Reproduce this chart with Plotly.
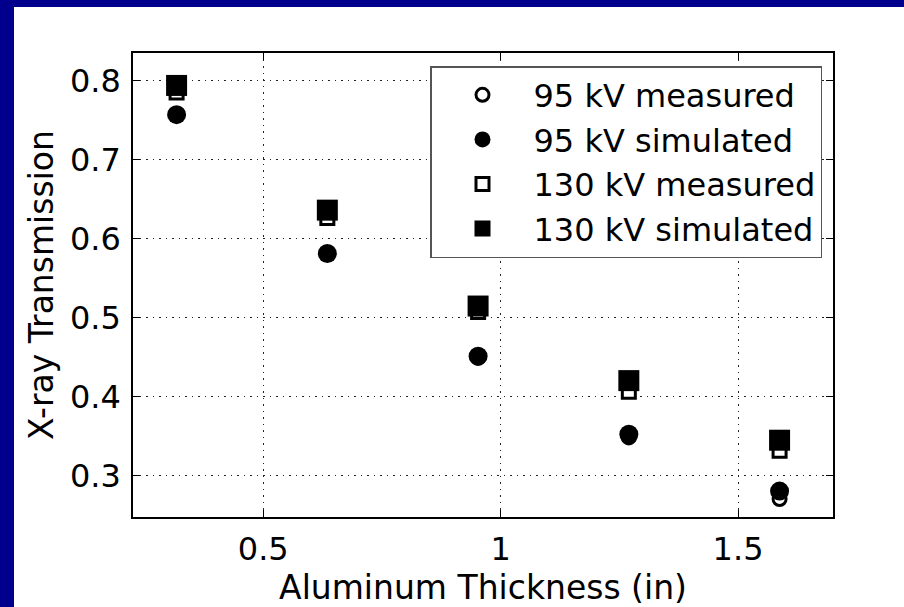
import plotly.graph_objects as go

# ---- data ----
thickness_in = [0.3175, 0.635, 0.9525, 1.27, 1.5875]
kv95_measured = [0.757, 0.580, 0.449, 0.348, 0.270]
kv95_simulated = [0.757, 0.581, 0.451, 0.352, 0.280]
kv130_measured = [0.785, 0.626, 0.507, 0.406, 0.331]
kv130_simulated = [0.794, 0.636, 0.5145, 0.420, 0.3445]

x_ticks = [0.5, 1, 1.5]
x_tick_text = ["0.5", "1", "1.5"]
y_ticks = [0.3, 0.4, 0.5, 0.6, 0.7, 0.8]
y_tick_text = ["0.3", "0.4", "0.5", "0.6", "0.7", "0.8"]

# ---- layout geometry (pixels) ----
W, H = 904, 607
L, R, T, B = 133, 71, 53, 90
PW, PH = W - L - R, H - T - B
BLUE = "#00008C"
FONT = "DejaVu Sans"

def px_x(p):
    return (p - L) / PW

def px_y(p):
    return (H - B - p) / PH

fig = go.Figure()

fig.add_trace(go.Scatter(
    x=thickness_in, y=kv95_measured, mode="markers", name="95 kV measured",
    marker=dict(symbol="circle", size=13, color="white",
                line=dict(color="black", width=3))))
fig.add_trace(go.Scatter(
    x=thickness_in, y=kv95_simulated, mode="markers", name="95 kV simulated",
    marker=dict(symbol="circle", size=19, color="black",
                line=dict(color="black", width=0))))
fig.add_trace(go.Scatter(
    x=thickness_in, y=kv130_measured, mode="markers", name="130 kV measured",
    marker=dict(symbol="square", size=13, color="white",
                line=dict(color="black", width=3))))
fig.add_trace(go.Scatter(
    x=thickness_in, y=kv130_simulated, mode="markers", name="130 kV simulated",
    marker=dict(symbol="square", size=21, color="black",
                line=dict(color="black", width=0))))

axis_common = dict(
    showline=True, linecolor="black", linewidth=1.5, mirror="ticks",
    ticks="inside", ticklen=7, tickwidth=1.2, tickcolor="black",
    showgrid=True, gridcolor="#222", gridwidth=1, griddash="1.5px,5px",
    zeroline=False, tickfont=dict(family=FONT, size=32, color="black"),
)

fig.update_xaxes(
    range=[0.2257, 1.70], tickvals=x_ticks, ticktext=x_tick_text,
    title=dict(text="Aluminum Thickness (in)",
               font=dict(family=FONT, size=33, color="black"), standoff=0),
    ticklabelstandoff=3, **axis_common)
fig.update_yaxes(
    range=[0.2472, 0.8351], tickvals=y_ticks, ticktext=y_tick_text,
    title=dict(text="X-ray Transmission",
               font=dict(family=FONT, size=33, color="black"), standoff=6),
    ticklabelstandoff=4, **axis_common)

fig.update_layout(
    width=W, height=H,
    margin=dict(l=L, r=R, t=T, b=B, pad=0),
    paper_bgcolor=BLUE, plot_bgcolor="white",
    showlegend=True,
    legend=dict(
        x=px_x(822), y=px_y(66), xanchor="right", yanchor="top",
        bgcolor="white", bordercolor="#555", borderwidth=1.5,
        font=dict(family=FONT, size=32, color="black"),
        itemwidth=92,
    ),
    shapes=[
        # white slide area inside the blue frame (frame: left 14 px, top 7 px)
        dict(type="rect", xref="paper", yref="paper",
             x0=px_x(14), x1=px_x(W + 4), y0=px_y(H + 4), y1=px_y(7),
             fillcolor="white", line=dict(width=0), layer="below"),
    ],
)

fig.write_html("out.html", config={"displayModeBar": False},
               post_script="document.body.style.margin='0';document.body.style.overflow='hidden';")
